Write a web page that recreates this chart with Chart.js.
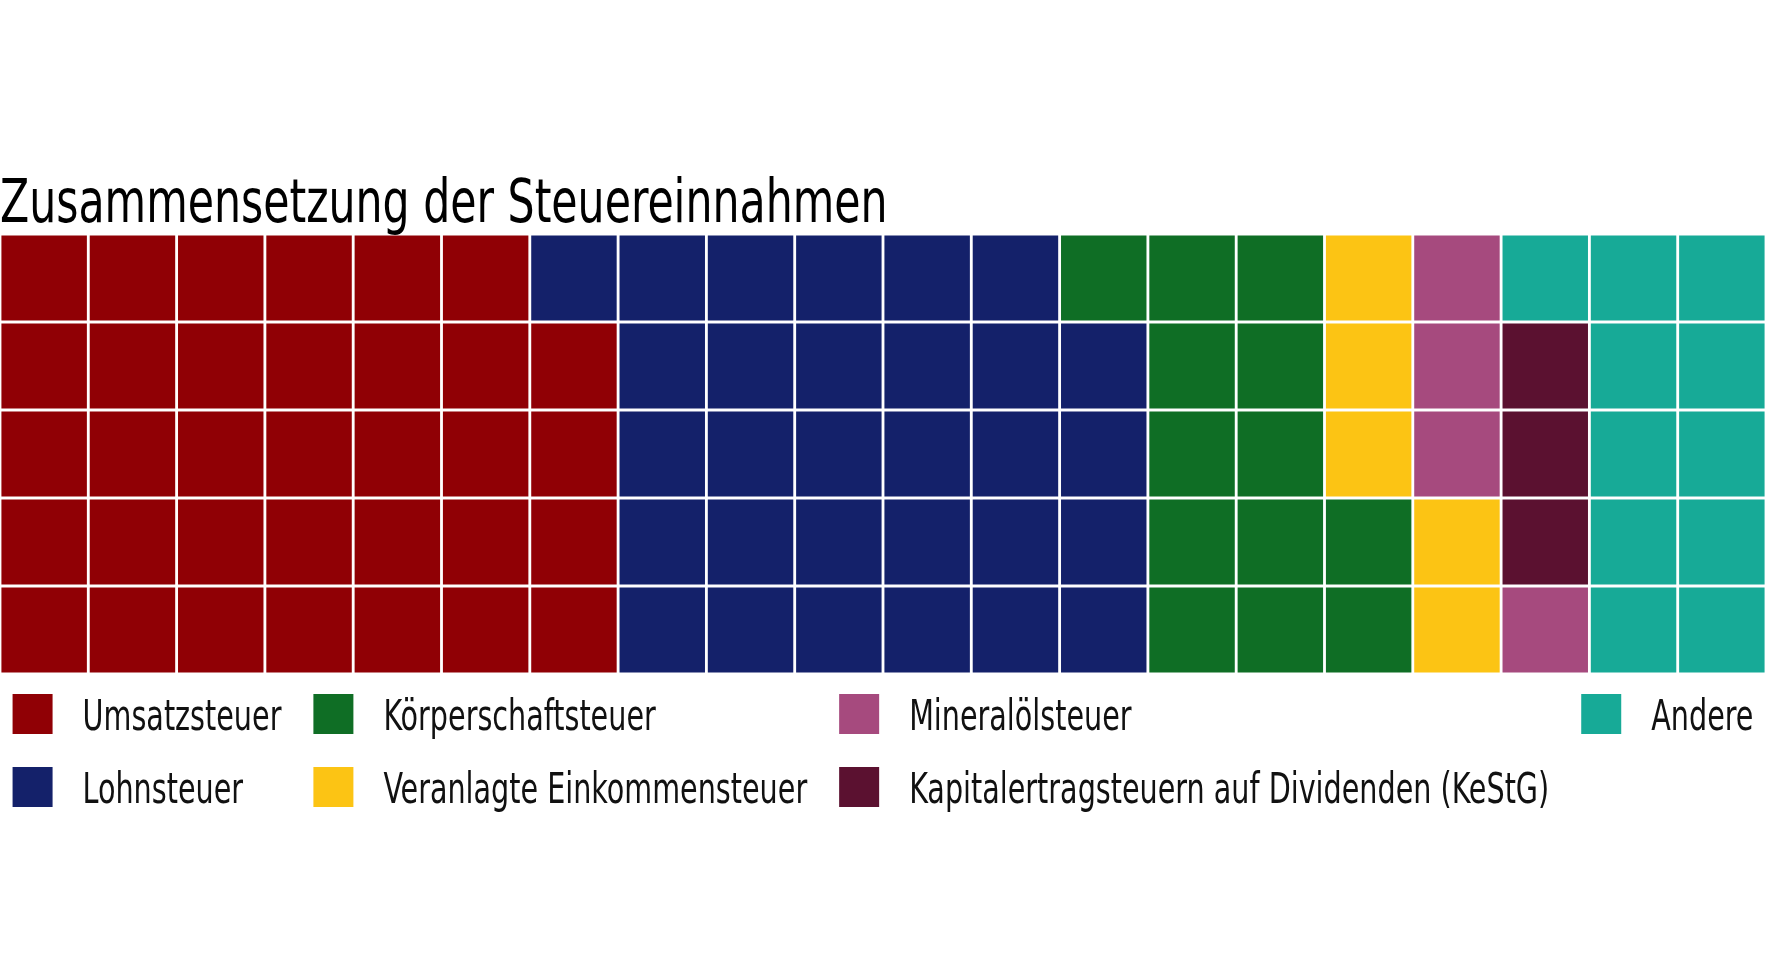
<!DOCTYPE html>
<html><head><meta charset="utf-8">
<script src="https://cdn.jsdelivr.net/npm/chart.js@4.4.1/dist/chart.umd.min.js"></script>
<style>html,body{margin:0;padding:0;background:#fff;overflow:hidden}#wrap{width:1766px;height:960px;position:relative}canvas{display:block}</style>
</head><body><div id="wrap"><canvas id="c" width="1766" height="960"></canvas></div>
<script>
const chartTitle = 'Zusammensetzung der Steuereinnahmen';
const categories = ['Umsatzsteuer', 'Lohnsteuer', 'Körperschaftsteuer', 'Veranlagte Einkommensteuer', 'Mineralölsteuer', 'Kapitalertragsteuern auf Dividenden (KeStG)', 'Andere'];
const counts = [34, 30, 13, 5, 4, 3, 11];
const colors = ['#900005', '#14216a', '#0f6e25', '#fcc414', '#a64a7e', '#5b1130', '#17aa97'];
const nCols = 20;
const nRows = 5;
const legendColumns = [[0, 1], [2, 3], [4, 5], [6]];

const FONT = '"DejaVu Sans Condensed", "DejaVu Sans", sans-serif';

// cell index -> category (filled column by column, bottom to top)
const cellCat = [];
counts.forEach((n, i) => { for (let k = 0; k < n; k++) cellCat.push(i); });
const colLabels = Array.from({length: nCols}, (_, c) => String(c + 1));
const datasets = [];
for (let r = 0; r < nRows; r++) {
  datasets.push({
    label: 'Reihe ' + (r + 1),
    data: colLabels.map(() => 1),
    backgroundColor: colLabels.map((_, c) => colors[cellCat[c * nRows + r]]),
    borderColor: '#ffffff',
    borderWidth: 1.75,
    borderSkipped: false,
    barPercentage: 1,
    categoryPercentage: 1
  });
}

function drawText(ctx, text, x, y, size, sx, color) {
  ctx.save();
  ctx.font = size + 'px ' + FONT;
  ctx.fillStyle = color;
  ctx.textBaseline = 'alphabetic';
  ctx.textAlign = 'left';
  ctx.translate(x, y);
  ctx.scale(sx, 1);
  ctx.fillText(text, 0, 0);
  ctx.restore();
}
function textW(ctx, text, size, sx) {
  ctx.save();
  ctx.font = size + 'px ' + FONT;
  const w = ctx.measureText(text).width * sx;
  ctx.restore();
  return w;
}

const decor = {
  id: 'decor',
  afterDraw(chart) {
    const ctx = chart.ctx;
    const area = chart.chartArea;
    drawText(ctx, chartTitle, area.left, area.top - 12, 60, 0.79, '#000000');
    // legend
    const sw = 40, swGap = 30, colGap = 32, fs = 43, lsx = 0.74, rowH = 73;
    const widths = legendColumns.map(col => sw + swGap + Math.max(...col.map(i => textW(ctx, categories[i], fs, lsx))));
    const total = widths.reduce((a, b) => a + b, 0) + colGap * (widths.length - 1);
    let x = (chart.width - total) / 2;
    const y0 = area.bottom + 20;
    legendColumns.forEach((col, ci) => {
      col.forEach((i, ri) => {
        const y = y0 + ri * rowH;
        ctx.fillStyle = colors[i];
        ctx.fillRect(x, y, sw, sw);
        drawText(ctx, categories[i], x + sw + swGap, y + sw / 2 + 16, fs, lsx, '#111111');
      });
      x += widths[ci] + colGap;
    });
  }
};

new Chart(document.getElementById('c'), {
  type: 'bar',
  data: { labels: colLabels, datasets: datasets },
  options: {
    responsive: false,
    animation: false,
    layout: { padding: { top: 234, bottom: 286, left: 0, right: 0 } },
    scales: {
      x: { stacked: true, display: false },
      y: { stacked: true, display: false, min: 0, max: nRows }
    },
    plugins: { legend: { display: false }, tooltip: { enabled: false }, title: { display: false } }
  },
  plugins: [decor]
});
</script>
</body></html>
